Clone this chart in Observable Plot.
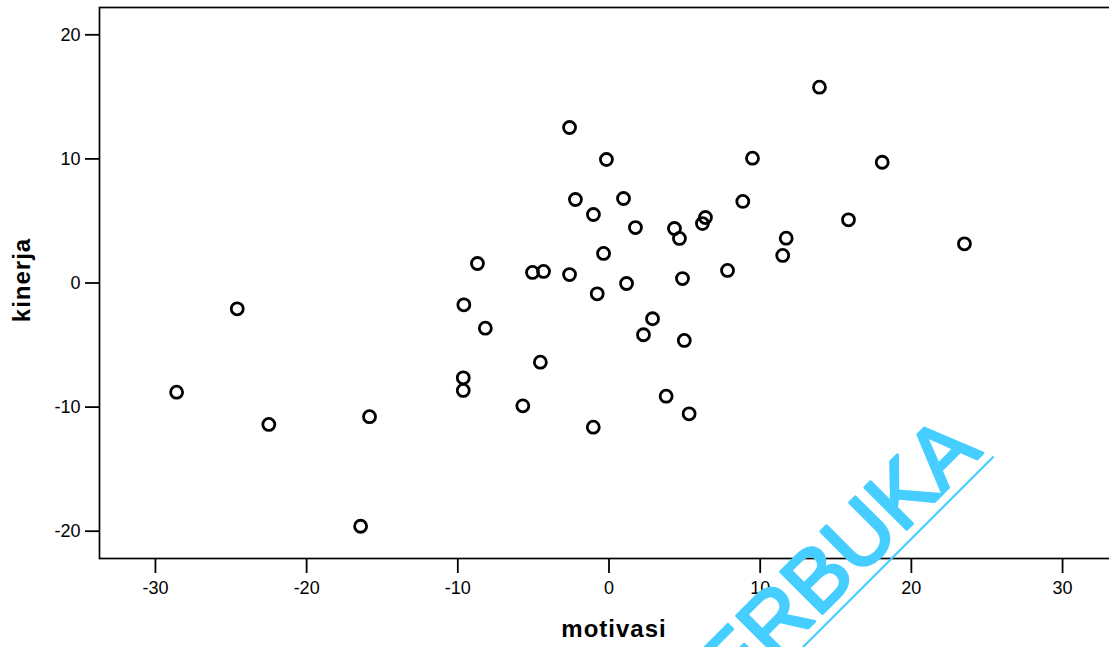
<!DOCTYPE html>
<html>
<head>
<meta charset="utf-8">
<script src="https://cdn.jsdelivr.net/npm/d3@7"></script>
<script src="https://cdn.jsdelivr.net/npm/@observablehq/plot@0.6"></script>
<style>
html, body { margin: 0; padding: 0; background: #fff; overflow: hidden; }
#wrap { position: relative; width: 1109px; height: 647px; overflow: hidden; }
#wrap > svg { overflow: hidden; display: block; }
#wm { position: absolute; left: 0; top: 0; pointer-events: none; }
</style>
</head>
<body>
<div id="wrap"></div>
<script>
// Data
const motivasi = [13.92, -2.61, -0.17, 9.49, 18.07, -2.22, 0.96, -1.03, 8.85, 1.75,
  4.33, 4.66, 6.38, 6.18, 15.84, 11.72, 23.51, -0.36, 11.49, -8.70,
  -5.06, -4.33, -2.61, 7.84, 4.86, 1.16, -0.78, -24.59, -9.60, -8.18,
  2.88, 2.28, 4.98, -4.54, -9.64, -9.64, -28.60, 3.78, -5.70, 5.30,
  -15.84, -22.50, -1.04, -16.43];
const kinerja = [15.78, 12.53, 9.95, 10.06, 9.73, 6.73, 6.81, 5.52, 6.57, 4.47,
  4.39, 3.59, 5.28, 4.79, 5.09, 3.61, 3.16, 2.38, 2.22, 1.57,
  0.85, 0.93, 0.68, 1.01, 0.36, -0.04, -0.87, -2.08, -1.76, -3.64,
  -2.88, -4.17, -4.63, -6.38, -7.64, -8.66, -8.80, -9.12, -9.90, -10.54,
  -10.77, -11.40, -11.62, -19.60];
const xTicks = [-30, -20, -10, 0, 10, 20, 30];
const yTicks = [-20, -10, 0, 10, 20];
const xLabel = "motivasi";
const yLabel = "kinerja";
const watermark = "TERBUKA";

const points = motivasi.map((m, i) => ({motivasi: m, kinerja: kinerja[i]}));
const font = "'Liberation Sans', Arial, Helvetica, sans-serif";

const chart = Plot.plot({
  width: 1109,
  height: 647,
  marginLeft: 99,
  marginRight: -9,
  marginTop: 7,
  marginBottom: 89,
  style: {fontFamily: font, fontSize: "18px", color: "#000", background: "#fff"},
  x: {domain: [-33.7, 33.7]},
  y: {domain: [-22.2, 22.2]},
  marks: [
    Plot.frame({stroke: "#000", strokeWidth: 1.7}),
    Plot.axisX(xTicks, {tickSize: 15, tickPadding: 8, tickFormat: d => String(d), strokeWidth: 1.8, label: null, fontSize: 18}),
    Plot.axisY(yTicks, {tickSize: 14, tickPadding: 5, tickFormat: d => String(d), strokeWidth: 1.8, label: null, fontSize: 18}),
    Plot.dot(points, {x: "motivasi", y: "kinerja", r: 6, stroke: "#000", strokeWidth: 2.8, fill: "none"}),
    Plot.text([xLabel], {text: d => d, frameAnchor: "bottom", textAnchor: "middle", lineAnchor: "middle", dx: 5, dy: 71, fontSize: 24, fontWeight: "bold", fill: "#000"}),
    Plot.text([yLabel], {text: d => d, frameAnchor: "left", textAnchor: "middle", lineAnchor: "middle", rotate: -90, dx: -77, dy: -3, fontSize: 24, fontWeight: "bold", fill: "#000"})
  ]
});
d3.select(chart).selectAll("text").filter(function() {
  const t = this.textContent; return t === xLabel || t === yLabel;
}).style("letter-spacing", "1px");
document.getElementById("wrap").appendChild(chart);

// Scan watermark overlay
const wm = d3.select("#wrap").append("svg").attr("id", "wm").attr("width", 1109).attr("height", 647);
const g = wm.append("g").attr("transform", "translate(983,453) rotate(-45)");
g.append("text").text(watermark).attr("text-anchor", "end")
  .attr("font-family", font).attr("font-size", 86).attr("fill", "#45CEFF")
  .attr("stroke", "#45CEFF").attr("stroke-width", 3).attr("stroke-linejoin", "round");
g.append("line").attr("x1", -440).attr("x2", 5).attr("y1", 10).attr("y2", 10)
  .attr("stroke", "#45CEFF").attr("stroke-width", 2.2);
</script>
</body>
</html>
